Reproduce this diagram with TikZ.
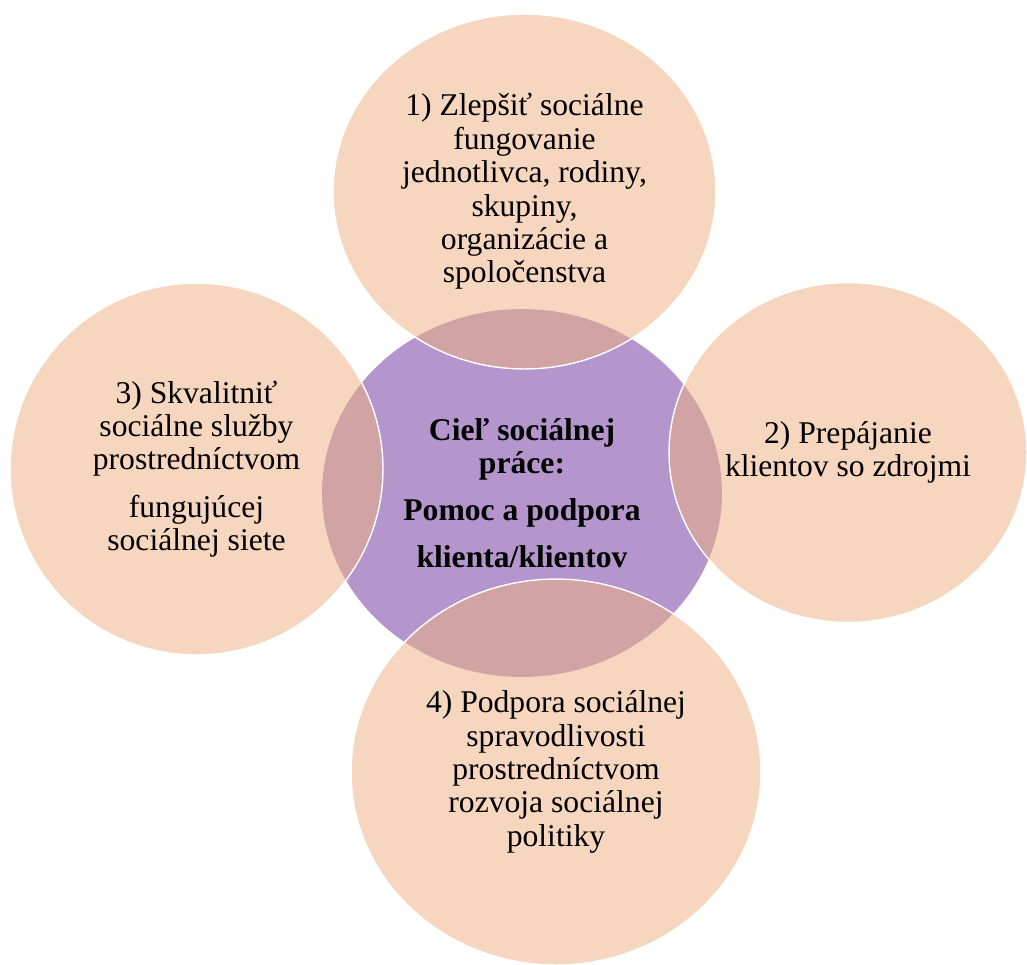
\documentclass[tikz,border=0pt]{standalone}
\usepackage{fontspec}
\setmainfont{Liberation Serif}
\usetikzlibrary{shapes.geometric}
\definecolor{goalpurple}{RGB}{180,150,204}
\definecolor{aimpeach}{RGB}{238,176,130}
\tikzset{
    goal/.style={ellipse, fill=goalpurple, inner sep=0pt, align=center,
        font=\bfseries\fontsize{18}{18.7}\selectfont},
    aim/.style={ellipse, fill=aimpeach, fill opacity=0.52, text opacity=1,
        draw=white, line width=0.8pt, inner sep=0pt, align=center,
        font=\fontsize{18}{19}\selectfont}
}

\begin{document}
\begin{tikzpicture}[x=0.02cm, y=-0.02cm]
    \useasboundingbox (0,0) rectangle (1027,964);
    \node[goal, minimum width=8cm, minimum height=7.36cm] (goal) at (522,493)
        {Cieľ sociálnej\\práce:\\[8pt]Pomoc a podpora\\[8pt]klienta/klientov};
    \node[aim, minimum width=7.66cm, minimum height=7.1cm] (aim1) at (524.5,191.5)
        {1) Zlepšiť sociálne\\fungovanie\\jednotlivca, rodiny,\\skupiny,\\organizácie a\\spoločenstva};
    \node[aim, minimum width=7.16cm, minimum height=6.8cm] (aim2) at (848,452.5)
        {2) Prepájanie\\klientov so zdrojmi};
    \node[aim, minimum width=7.46cm, minimum height=7.44cm] (aim3) at (196.5,469)
        {3) Skvalitniť\\sociálne služby\\prostredníctvom\\[8pt]fungujúcej\\sociálnej siete};
    \node[aim, minimum width=8.2cm, minimum height=7.72cm] (aim4) at (556,772)
        {4) Podpora sociálnej\\spravodlivosti\\prostredníctvom\\rozvoja sociálnej\\politiky};
\end{tikzpicture}
\end{document}
